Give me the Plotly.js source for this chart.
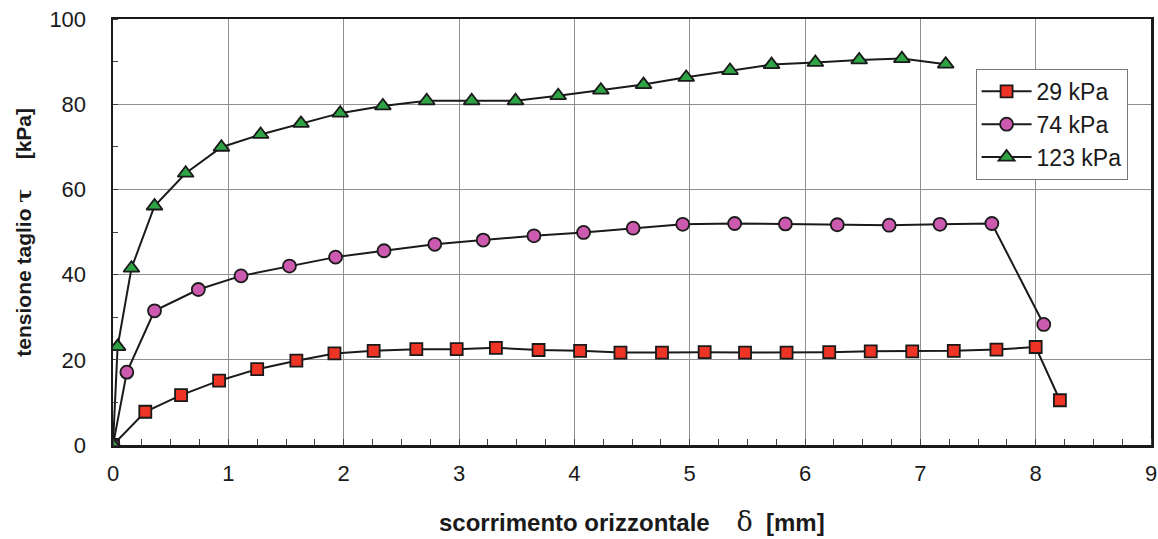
<!DOCTYPE html>
<html>
<head>
<meta charset="utf-8">
<script src="https://cdn.plot.ly/plotly-3.0.1.min.js"></script>
<style>html,body{margin:0;padding:0;background:#fff;}#chart{width:1158px;height:539px;}</style>
</head>
<body>
<div id="chart"></div>
<script>
// 29 kPa series
var x29 = [0, 0.28, 0.59, 0.92, 1.25, 1.59, 1.92, 2.26, 2.63, 2.98, 3.32, 3.69, 4.05, 4.40, 4.76, 5.13, 5.48, 5.84, 6.21, 6.57, 6.93, 7.29, 7.66, 8.00, 8.21];
var y29 = [0, 7.8, 11.7, 15.1, 17.8, 19.8, 21.5, 22.1, 22.5, 22.5, 22.8, 22.3, 22.1, 21.7, 21.7, 21.8, 21.7, 21.7, 21.8, 22.0, 22.0, 22.1, 22.4, 23.0, 10.5];
// 74 kPa series
var x74 = [0, 0.12, 0.36, 0.74, 1.11, 1.53, 1.93, 2.35, 2.79, 3.21, 3.65, 4.08, 4.51, 4.94, 5.39, 5.83, 6.28, 6.73, 7.17, 7.62, 8.07];
var y74 = [0, 17.1, 31.5, 36.5, 39.7, 42.0, 44.1, 45.6, 47.1, 48.1, 49.1, 49.9, 50.9, 51.8, 52.0, 51.9, 51.7, 51.6, 51.8, 52.0, 28.3];
// 123 kPa series
var x123 = [0, 0.04, 0.16, 0.36, 0.63, 0.94, 1.28, 1.63, 1.97, 2.34, 2.72, 3.11, 3.49, 3.86, 4.23, 4.60, 4.97, 5.35, 5.71, 6.09, 6.47, 6.84, 7.22];
var y123 = [0, 23.1, 41.5, 56.1, 63.8, 69.9, 72.9, 75.5, 77.9, 79.6, 80.8, 80.8, 80.8, 82.0, 83.3, 84.6, 86.3, 87.9, 89.3, 89.8, 90.4, 90.7, 89.4];
var seriesNames = ['29 kPa', '74 kPa', '123 kPa'];
var xTicks = [0, 1, 2, 3, 4, 5, 6, 7, 8, 9];
var yTicks = [0, 20, 40, 60, 80, 100];

var FONT = 'Liberation Sans, Arial, sans-serif';
var lineStyle = {color: '#1a1a1a', width: 2};
var mline = {color: '#1a1a1a', width: 1.8};
var NB = '\u00A0';

var traces = [
  {x: x29, y: y29, name: seriesNames[0], mode: 'lines+markers', line: lineStyle,
   marker: {symbol: 'square', size: 12, color: '#EE3424', line: mline}},
  {x: x74, y: y74, name: seriesNames[1], mode: 'lines+markers', line: lineStyle,
   marker: {symbol: 'circle', size: 13, color: '#CC5AAE', line: mline}},
  {x: x123, y: y123, name: seriesNames[2], mode: 'lines+markers', line: lineStyle,
   marker: {symbol: 'triangle-up', size: 14, color: '#2FA444', line: mline}}
];

var layout = {
  width: 1158, height: 539,
  margin: {l: 113, r: 7, t: 19, b: 94},
  paper_bgcolor: '#fff', plot_bgcolor: '#fff',
  font: {family: FONT, size: 22, color: '#1a1a1a'},
  showlegend: true,
  legend: {x: 0.831, y: 0.883, xanchor: 'left', yanchor: 'top',
    bgcolor: '#fff', bordercolor: '#777', borderwidth: 1, itemwidth: 50,
    font: {family: FONT, size: 23, color: '#1a1a1a'}},
  xaxis: {range: [0, 9], tickvals: xTicks, ticktext: xTicks.map(String),
    showgrid: true, gridcolor: '#8f8f8f', gridwidth: 1,
    showline: true, linecolor: '#1a1a1a', linewidth: 2.5, mirror: true,
    ticks: '', zeroline: false, ticklabelstandoff: 7,
    tickfont: {family: FONT, size: 22, color: '#1a1a1a'},
    minor: {dtick: 0.25, tick0: 0, ticks: 'inside', ticklen: 6, tickcolor: '#444', tickwidth: 1, showgrid: false}},
  yaxis: {range: [0, 100], tickvals: yTicks, ticktext: yTicks.map(String),
    showgrid: true, gridcolor: '#8f8f8f', gridwidth: 1,
    showline: true, linecolor: '#1a1a1a', linewidth: 2.5, mirror: true,
    ticks: '', zeroline: false, ticklabelstandoff: 20,
    tickfont: {family: FONT, size: 22, color: '#1a1a1a'},
    minor: {dtick: 10, tick0: 0, ticks: 'inside', ticklen: 5, tickcolor: '#444', tickwidth: 1, showgrid: false}},
  annotations: [
    {xref: 'paper', yref: 'paper', x: 0.5, y: -0.18, xanchor: 'center', yanchor: 'middle', showarrow: false,
     text: 'scorrimento orizzontale' + NB + NB + NB + NB + '<span style="font-family:DejaVu Serif;font-weight:normal;font-size:27px">δ</span>' + NB + NB + '[mm]',
     font: {family: FONT, size: 24, color: '#1a1a1a', weight: 'bold'}},
    {xref: 'paper', yref: 'paper', x: -0.087, y: 0.5, xanchor: 'center', yanchor: 'middle', showarrow: false, textangle: -90,
     text: 'tensione taglio' + NB + '<span style="font-family:DejaVu Serif">τ</span>' + NB + NB + NB + NB + NB + '[kPa]',
     font: {family: FONT, size: 21, color: '#1a1a1a', weight: 'bold'}}
  ]
};

Plotly.newPlot('chart', traces, layout, {displayModeBar: false, staticPlot: true});
</script>
</body>
</html>
